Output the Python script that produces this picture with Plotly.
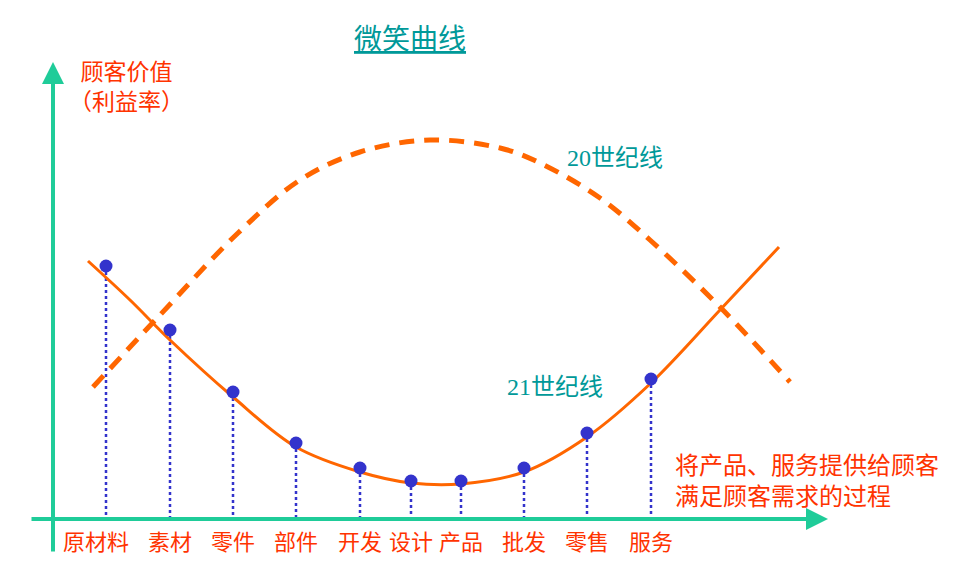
import plotly.graph_objects as go

# value chain stages along the horizontal axis
stages = ['原材料', '素材', '零件', '部件', '开发', '设计', '产品', '批发', '零售', '服务']
stage_x = [53, 117, 180, 243, 307, 358, 408, 471, 534, 598]
stage_value = [253, 189, 127, 76, 51, 38, 38, 51, 86, 140]

# 21st century line (smile curve)
curve21_x = [35, 77, 117, 180, 243, 307, 358, 408, 471, 534, 598, 667, 726]
curve21_y = [258, 219, 179, 122, 72, 47, 36, 35, 47, 82, 136, 209, 272]

# 20th century line (arch)
curve20_x = [40, 107, 185, 247, 307, 377, 447, 487, 547, 597, 667, 737]
curve20_y = [132, 204, 286, 339, 367, 379, 371, 356, 321, 279, 212, 137]

orange = '#ff6600'
blue = '#3333cc'
teal = '#1fcc99'
red = '#ff3300'
dark_teal = '#009999'
cjk = 'Noto Sans CJK SC'

fig = go.Figure()

# dotted drop lines from each stage value down to the axis
drop_x, drop_y = [], []
for x, y in zip(stage_x, stage_value):
    drop_x += [x, x, None]
    drop_y += [y, 0, None]
fig.add_trace(go.Scatter(x=drop_x, y=drop_y, mode='lines',
                         line=dict(color=blue, width=2.5, dash='dot'),
                         hoverinfo='skip'))

fig.add_trace(go.Scatter(x=curve20_x, y=curve20_y, mode='lines',
                         line=dict(color=orange, width=5, dash='15px,10px', shape='spline'),
                         name='20世纪线'))
fig.add_trace(go.Scatter(x=curve21_x, y=curve21_y, mode='lines',
                         line=dict(color=orange, width=3, shape='spline'),
                         name='21世纪线'))
fig.add_trace(go.Scatter(x=stage_x, y=stage_value, mode='markers',
                         marker=dict(color=blue, size=13),
                         name='stages'))

annotations = []
# axes drawn as arrows
annotations.append(dict(x=775, y=0, ax=-23, ay=0, xref='x', yref='y', axref='x', ayref='y',
                        text='', showarrow=True, arrowhead=2, arrowsize=1.1,
                        arrowwidth=4, arrowcolor=teal))
annotations.append(dict(x=0, y=457, ax=0, ay=-34, xref='x', yref='y', axref='x', ayref='y',
                        text='', showarrow=True, arrowhead=2, arrowsize=1.1,
                        arrowwidth=4, arrowcolor=teal))

for i, (name, x) in enumerate(zip(stages, stage_x)):
    annotations.append(dict(x=x, y=-21, xref='x', yref='y', text=name, showarrow=False,
                            xshift=-10 if i == 0 else 0,
                            font=dict(family=cjk, size=22, color=red)))

annotations += [
    dict(x=357, y=482, text='<u>微笑曲线</u>', showarrow=False,
         font=dict(family=cjk, size=28, color=dark_teal)),
    dict(x=73, y=434, text='顾客价值<br>（利益率）', showarrow=False, align='center',
         font=dict(family=cjk, size=23, color=red)),
    dict(x=562, y=361, text='20世纪线', showarrow=False,
         font=dict(family='Liberation Serif, ' + cjk, size=24, color=dark_teal)),
    dict(x=502, y=132, text='21世纪线', showarrow=False,
         font=dict(family='Liberation Serif, ' + cjk, size=24, color=dark_teal)),
    dict(x=620, y=40, text='将产品、服务提供给顾客<br>满足顾客需求的过程', showarrow=False,
         xanchor='left', align='left',
         font=dict(family=cjk, size=24, color=red)),
]

fig.update_layout(
    width=979, height=572,
    margin=dict(l=0, r=0, t=0, b=0),
    paper_bgcolor='white', plot_bgcolor='white',
    showlegend=False,
    # page body has an 8px margin, so the ranges are offset to keep the axes in place
    xaxis=dict(range=[-45, 934], visible=False, fixedrange=True),
    yaxis=dict(range=[-61, 511], visible=False, fixedrange=True),
    annotations=annotations,
)

fig.write_html('out.html')
